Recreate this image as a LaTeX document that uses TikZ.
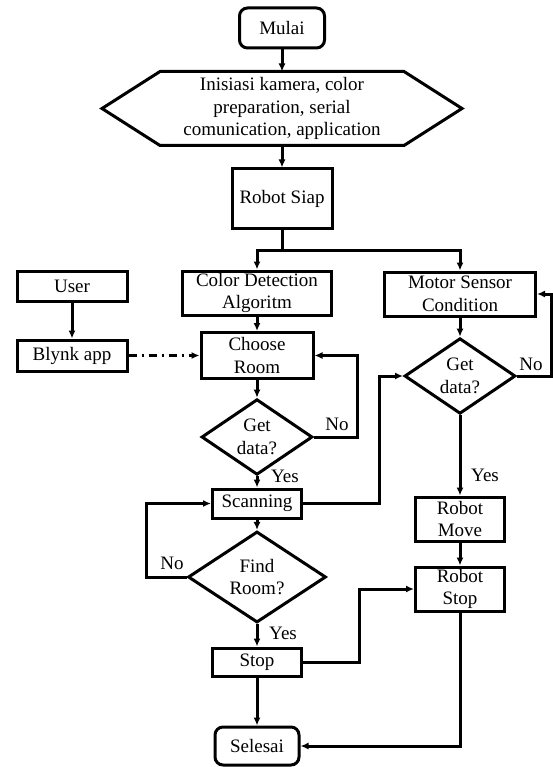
\documentclass[tikz,border=0pt]{standalone}
\usepackage{fontspec}
\setmainfont{Liberation Serif}
\usetikzlibrary{calc,positioning,shapes,arrows.meta}

\begin{document}
\begin{tikzpicture}
[x=1pt,y=-1pt,
font=\fontsize{19}{22.7}\selectfont,
line width=3pt,
box/.style={draw,rectangle,inner sep=0pt,align=center},
term/.style={box,rounded corners=8pt},
decision/.style={draw,diamond,inner sep=0pt,align=center},
arr/.style={-{Latex[length=8pt,width=7pt]}},
lbl/.style={inner sep=0pt}]

\useasboundingbox (0,0) rectangle (553,767);

\node[term,minimum width=85pt,minimum height=40pt] (mulai) at (282,28) {Mulai};
\node[inner sep=0pt,align=center,minimum width=357pt,minimum height=71pt] (init) at (282,108.5) {Inisiasi kamera, color\\preparation, serial\\comunication, application};
\draw (init.west) -- ($(init.north west)+(58,0)$) -- ($(init.north east)+(-58,0)$) -- (init.east)
  -- ($(init.south east)+(-58,0)$) -- ($(init.south west)+(58,0)$) -- cycle;
\node[box,minimum width=100pt,minimum height=59pt] (siap) at (282,198.5) {Robot Siap};

\node[box,minimum width=110pt,minimum height=30pt] (user) at (72,286) {User};
\node[box,minimum width=110pt,minimum height=31pt] (blynk) at (72,355.5) {Blynk app};
\node[box,minimum width=149pt,minimum height=44pt] (color) at (257,293) {Color Detection\\Algoritm};
\node[box,minimum width=151pt,minimum height=44pt] (motor) at (460,294) {Motor Sensor\\Condition};
\node[box,minimum width=112pt,minimum height=46pt] (choose) at (257,355.5) {Choose\\Room};
\node[decision,minimum width=111pt,minimum height=69pt] (getA) at (257,437) {Get\\data?};
\node[decision,minimum width=111pt,minimum height=70pt] (getB) at (460,376) {Get\\data?};
\node[box,minimum width=89pt,minimum height=29pt] (scan) at (257,503.5) {Scanning};
\node[decision,minimum width=138pt,minimum height=82pt] (find) at (257,577) {Find\\Room?};
\node[box,minimum width=89pt,minimum height=44pt] (move) at (460,519) {Robot\\Move};
\node[box,minimum width=89pt,minimum height=44pt] (rstop) at (460,589) {Robot\\Stop};
\node[box,minimum width=89pt,minimum height=28pt] (stop) at (257,662) {Stop};
\node[term,minimum width=84pt,minimum height=38pt] (selesai) at (257,746) {Selesai};

\node[lbl] (noA) at (337,424) {No};
\node[lbl] (yesA) at (285,476) {Yes};
\node[lbl] (noB) at (531,364) {No};
\node[lbl] (yesB) at (485,475) {Yes};
\node[lbl] (noC) at (172,563) {No};
\node[lbl] (yesC) at (283,633) {Yes};

\coordinate (split) at ($(siap.south)+(0,21)$);

\draw[arr] (mulai) -- (init);
\draw[arr] (init) -- (siap);
\draw (siap.south) -- (split);
\draw[arr] (split) -| (color.north);
\draw[arr] (split) -| (motor.north);
\draw[arr] (user) -- (blynk);
\draw[arr,dash pattern=on 8pt off 5pt on 2pt off 5pt] (blynk) -- (choose);
\draw[arr] (color) -- (choose);
\draw[arr] (choose) -- (getA);
\draw[arr] (getA.east) -- ++(43,0) |- (choose.east);
\draw[arr] (getA) -- (scan);
\draw[arr] (scan.east) -- ++(76,0) |- (getB.west);
\draw[arr] (motor) -- (getB);
\draw[arr] (getB.east) -- ++(34,0) |- (motor.east);
\draw[arr] (getB) -- (move);
\draw[arr] (move) -- (rstop);
\draw[arr] (scan) -- (find);
\draw[arr] (find.west) -- ++(-40,0) |- (scan.west);
\draw[arr] (find) -- (stop);
\draw[arr] (stop.east) -- ++(56,0) |- (rstop.west);
\draw[arr] (stop) -- (selesai);
\draw[arr] (rstop.south) |- (selesai.east);

\end{tikzpicture}
\end{document}
